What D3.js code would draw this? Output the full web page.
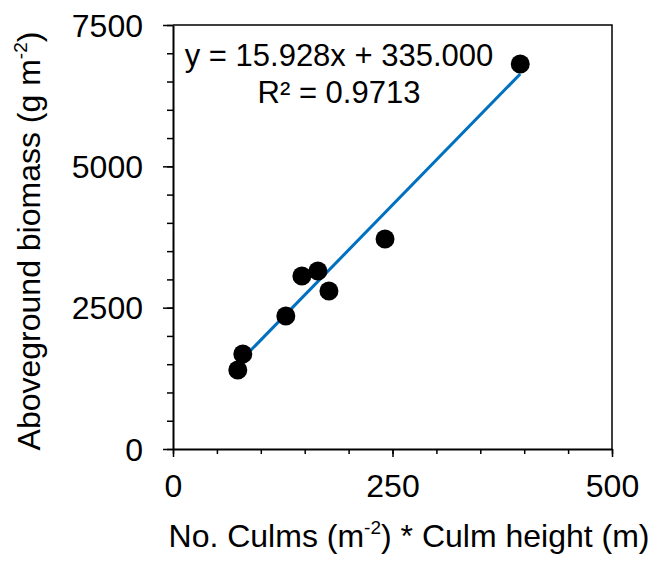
<!DOCTYPE html>
<html>
<head>
<meta charset="utf-8">
<script src="https://cdn.jsdelivr.net/npm/d3@7"></script>
<style>
  body { margin: 0; background: #fff; }
  text { font-family: "Liberation Sans", Arial, sans-serif; fill: #000; }
</style>
</head>
<body>
<div id="chart"></div>
<script>
// culms * height vs biomass
var culmIndex = [73.8, 79.5, 128.5, 146.8, 165.0, 177.6, 241.5, 395.5];
var biomass = [1397, 1680, 2352, 3060, 3148, 2795, 3715, 6810];
var xTicks = [0, 250, 500];
var yTicks = [0, 2500, 5000, 7500];
var slope = 15.928, intercept = 335.000, r2 = 0.9713;

var width = 655, height = 561;
var margin = {top: 25, right: 43, bottom: 112, left: 173};
var w = width - margin.left - margin.right,
    h = height - margin.top - margin.bottom;

var svg = d3.select("#chart")
  .append("svg")
    .attr("width", width)
    .attr("height", height);

var g = svg.append("g")
  .attr("transform", "translate(" + margin.left + "," + margin.top + ")");

var x = d3.scaleLinear().domain([0, 500]).range([0, w]);
var y = d3.scaleLinear().domain([0, 7500]).range([h, 0]);

// box (top + right)
g.append("path")
  .attr("d", "M0,0H" + w + "V" + h)
  .attr("fill", "none")
  .attr("stroke", "#000")
  .attr("stroke-width", 1.5);

// minor ticks
g.append("g")
  .attr("transform", "translate(0," + h + ")")
  .call(d3.axisBottom(x).tickValues(d3.range(0, 501, 50)).tickSize(5).tickFormat(""))
  .call(a => a.select(".domain").remove());
g.append("g")
  .call(d3.axisLeft(y).tickValues(d3.range(0, 7501, 500)).tickSize(6).tickFormat(""))
  .call(a => a.select(".domain").remove());

// major ticks + labels
var xAxis = g.append("g")
  .attr("transform", "translate(0," + h + ")")
  .call(d3.axisBottom(x).tickValues(xTicks).tickSize(8).tickSizeOuter(0)
    .tickPadding(17).tickFormat(d3.format("d")));
var yAxis = g.append("g")
  .call(d3.axisLeft(y).tickValues(yTicks).tickSize(10).tickSizeOuter(0)
    .tickPadding(20).tickFormat(d3.format("d")));

[xAxis, yAxis].forEach(function (a) {
  a.selectAll("text").style("font-size", "32px").attr("fill", "#000");
  a.select(".domain").attr("stroke-width", 2);
});
g.selectAll(".tick line").attr("stroke", "#000").attr("stroke-width", 1.5);
yAxis.selectAll("text").attr("dy", "0.35em");

// trend line
var xMin = d3.min(culmIndex), xMax = d3.max(culmIndex);
g.append("line")
  .attr("x1", x(xMin)).attr("y1", y(slope * xMin + intercept))
  .attr("x2", x(xMax)).attr("y2", y(slope * xMax + intercept))
  .attr("stroke", "#0070C0")
  .attr("stroke-width", 3);

// points
g.selectAll("circle")
  .data(culmIndex)
  .enter()
  .append("circle")
    .attr("cx", function (d) { return x(d); })
    .attr("cy", function (d, i) { return y(biomass[i]); })
    .attr("r", 9.5)
    .attr("fill", "#000");

// equation label
g.append("text")
  .attr("x", 166).attr("y", 41)
  .attr("text-anchor", "middle")
  .style("font-size", "31px")
  .text("y = " + slope.toFixed(3) + "x + " + intercept.toFixed(3));
g.append("text")
  .attr("x", 166).attr("y", 78)
  .attr("text-anchor", "middle")
  .style("font-size", "31px")
  .text("R² = " + r2);

// axis titles
var xt = svg.append("text")
  .attr("x", 409).attr("y", 547)
  .attr("text-anchor", "middle")
  .style("font-size", "32px");
xt.append("tspan").text("No. Culms (m");
xt.append("tspan").attr("dy", -13).style("font-size", "19px").text("-2");
xt.append("tspan").attr("dy", 13).text(") * Culm height (m)");

var yt = svg.append("text")
  .attr("transform", "translate(40,241) rotate(-90)")
  .attr("text-anchor", "middle")
  .style("font-size", "32px");
yt.append("tspan").text("Aboveground biomass (g m");
yt.append("tspan").attr("dy", -13).style("font-size", "19px").text("-2");
yt.append("tspan").attr("dy", 13).text(")");
</script>
</body>
</html>
